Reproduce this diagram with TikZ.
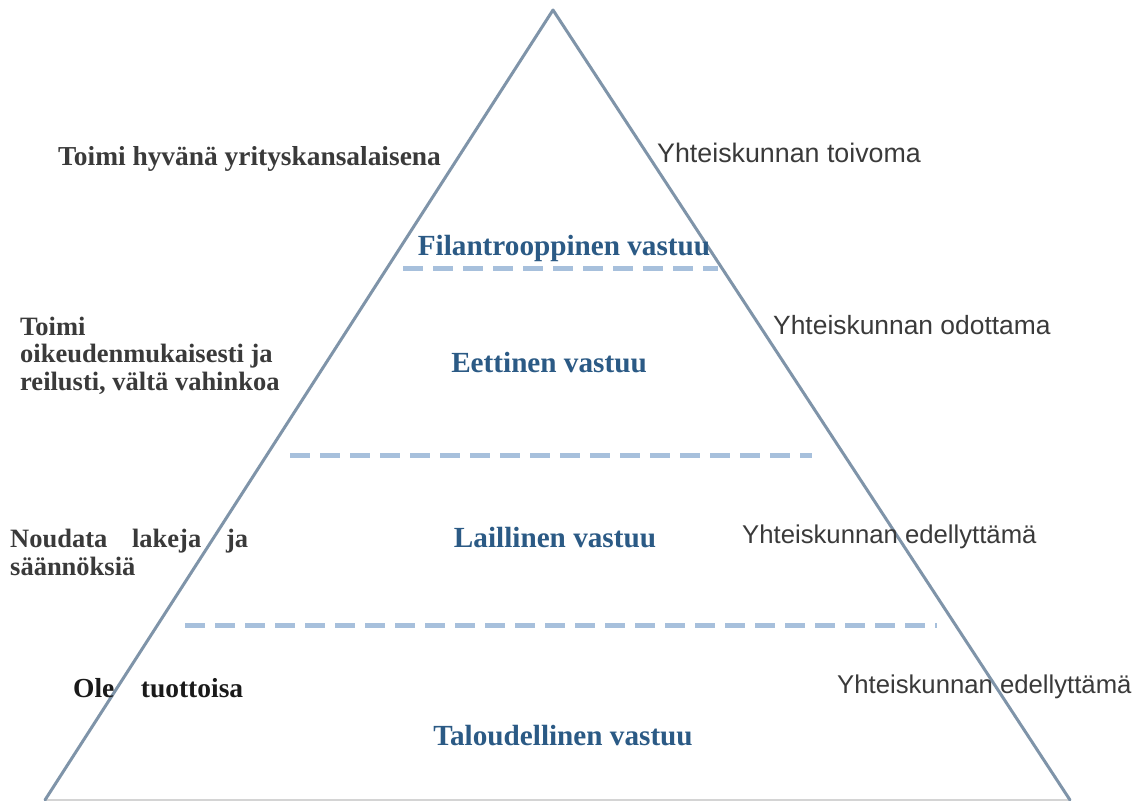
\documentclass[tikz,border=0pt]{standalone}
\usepackage{fontspec}
\setmainfont{Liberation Serif}
\newfontfamily\labelsans{Liberation Sans}
\definecolor{edgegrey}{HTML}{7F94A9}
\definecolor{basegrey}{HTML}{D4D4D4}
\definecolor{dashblue}{HTML}{A7C0DC}
\definecolor{levelblue}{HTML}{2B5A85}
\definecolor{textdark}{HTML}{3A3A3A}
\definecolor{textblack}{HTML}{1A1A1A}
\begin{document}
\begin{tikzpicture}[x=1pt,y=-1pt,
  edge/.style={draw=edgegrey,line width=3pt,line cap=round,line join=round},
  divider/.style={draw=dashblue,line width=5pt,dash pattern=on 20pt off 10pt},
  level/.style={font=\fontsize{29.2}{32}\selectfont\bfseries,text=levelblue,inner sep=0pt,anchor=base},
  duty/.style={font=\fontsize{26.5}{27.5}\selectfont\bfseries,text=textdark,inner sep=0pt,anchor=base west,align=left},
  society/.style={font=\labelsans\fontsize{26}{28}\selectfont,text=textdark,inner sep=0pt,anchor=base west}]
\useasboundingbox (0,0) rectangle (1134,800);
\fill[white] (0,0) rectangle (1134,800);

% pyramid outline
\coordinate (apex) at (553,10);
\coordinate (bl) at (45,800);
\coordinate (br) at (1070,800);
\draw[basegrey,line width=1.5pt] (bl) -- (br);
\draw[edge] (bl) -- (apex) -- (br);

% level dividers
\coordinate (d1a) at (403,268); \coordinate (d1b) at (718,268);
\coordinate (d2a) at (290,455); \coordinate (d2b) at (812,455);
\coordinate (d3a) at (185,625); \coordinate (d3b) at (937,625);
\draw[divider] (d1a) -- (d1b);
\draw[divider] (d2a) -- (d2b);
\draw[divider] (d3a) -- (d3b);

% level names
\node[level] (phil) at (564,255) {Filantrooppinen vastuu};
\node[level] (eth) at (549,372) {Eettinen vastuu};
\node[level] (leg) at (555,547) {Laillinen vastuu};
\node[level] (eco) at (563,745) {Taloudellinen vastuu};

% what each level asks of the company (base = last line)
\node[duty,font=\fontsize{27.4}{30}\selectfont\bfseries] (dphil) at (58,165) {Toimi hyvänä yrityskansalaisena};
\node[duty] (deth) at (20,390) {Toimi\\oikeudenmukaisesti ja\\reilusti, vältä vahinkoa};
\node[duty,font=\fontsize{26.5}{28}\selectfont\bfseries] (dleg) at (10,575)
  {\makebox[238pt][s]{Noudata lakeja ja}\\säännöksiä};
\node[duty,text=textblack,font=\fontsize{27.5}{28}\selectfont\bfseries] (deco) at (73,697)
  {\makebox[170pt][s]{Ole tuottoisa}};

% society's view of each level
\node[society,font=\labelsans\fontsize{26.8}{28}\selectfont] (sphil) at (657,162) {Yhteiskunnan toivoma};
\node[society,font=\labelsans\fontsize{26.4}{28}\selectfont] (seth) at (773,334) {Yhteiskunnan odottama};
\node[society,font=\labelsans\fontsize{25.7}{28}\selectfont] (sleg) at (742,543) {Yhteiskunnan edellyttämä};
\node[society,font=\labelsans\fontsize{25.7}{28}\selectfont] (seco) at (837,693) {Yhteiskunnan edellyttämä};
\end{tikzpicture}
\end{document}
